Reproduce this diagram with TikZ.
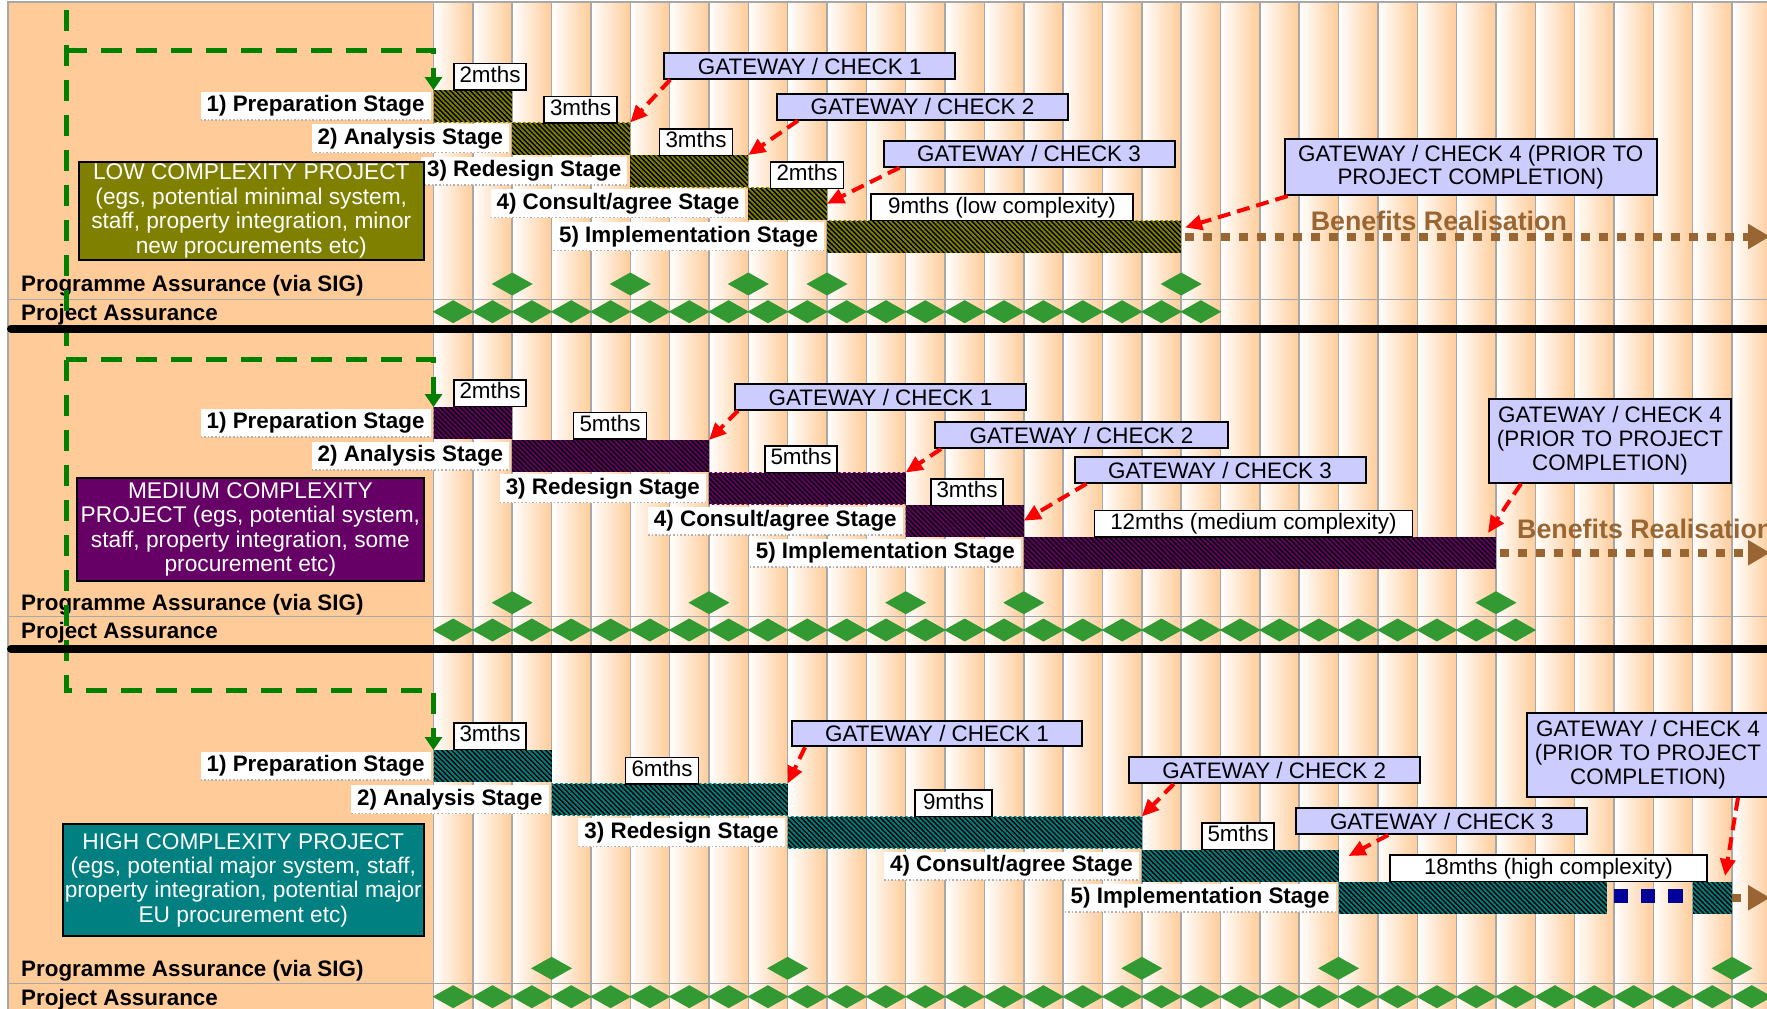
\documentclass[tikz,border=0pt]{standalone}
\usepackage{fontspec}
\setmainfont{Liberation Sans}
\usetikzlibrary{arrows.meta,patterns.meta}
\definecolor{peach}{HTML}{FFCC99}
\definecolor{gridgray}{HTML}{A8A8A8}
\definecolor{lowcol}{HTML}{808000}
\definecolor{medcol}{HTML}{660066}
\definecolor{highcol}{HTML}{008080}
\definecolor{gatefill}{HTML}{CCCCFF}
\definecolor{benefit}{HTML}{996633}
\definecolor{gemgreen}{HTML}{339933}
\definecolor{pathgreen}{HTML}{008000}
\definecolor{squareblue}{HTML}{000099}
\newcommand\setfs[2]{\fontsize{#1}{#2}\selectfont}
\pgfdeclarelayer{grid}
\pgfdeclarelayer{under}
\pgfsetlayers{grid,under,main}
\tikzset{
  gridline/.style={draw=gridgray, line width=1.5pt},
  barshape/.style={inner sep=0pt, outer sep=0pt, minimum height=#1, anchor=north west, fill=black},
  stagelabel/.style={fill=white, font=\bfseries\setfs{22.4}{24}, inner xsep=6pt, inner ysep=3.5pt,
    text height=16.5pt, text depth=5pt, outer sep=0pt,
    path picture={\draw[gray!60, dotted, line width=1.6pt] (path picture bounding box.south west) -- (path picture bounding box.south east);}},
  durbox/.style={draw=black, line width=1.5pt, fill=white, font=\setfs{22.4}{24}, inner sep=0pt,
    minimum height=26.5pt, text height=16pt, text depth=4.5pt},
  gate/.style={draw=black, line width=2pt, fill=gatefill, font=\setfs{22.4}{23.8}, inner sep=0pt,
    align=center},
  cbox/.style={draw=black, line width=2pt, text=white, font=\setfs{22.7}{24.4}, inner sep=0pt,
    align=center},
  rowtext/.style={font=\bfseries\setfs{22.4}{24}, inner sep=0pt, anchor=base west},
  gatearrow/.style={draw=red, line width=4pt, dash pattern=on 13pt off 7pt,
    -{Triangle[length=17pt,width=15pt]}},
  greenpath/.style={draw=pathgreen, line width=5pt, dash pattern=on 21pt off 14pt,
    -{Triangle[length=13pt,width=17pt]}},
  benefitarrow/.style={draw=benefit, line width=8pt, dash pattern=on 9pt off 9pt,
    -{Triangle[length=22pt,width=24pt]}},
  benefittext/.style={text=benefit, font=\bfseries\setfs{26.8}{28}, inner sep=0pt, anchor=base west},
  divider/.style={line width=8pt, line cap=round}
}
% name, first month, last month, top, height, stripe colour
\newcommand\stagebar[6]{%
  \node[barshape=#5, minimum width={39.35*(#3-#2)},
        postaction={pattern color=#6, pattern={Lines[angle=-45,distance=3.5pt,line width=1.8pt]}}]
        (#1) at ({433.5+39.35*#2},#4) {};}
% name, bar, text
\newcommand\stagelabel[3]{\node[stagelabel, anchor=east] (#1) at ([xshift=-3pt]#2.west) {#3};}
% milestone diamond at (x,y)
\newcommand\gem[2]{\fill[gemgreen] ({#1-20.5},#2) -- ({#1},{#2-11.5}) -- ({#1+20.5},#2) -- ({#1},{#2+11.5}) -- cycle;}
\begin{document}
\begin{tikzpicture}[x=1pt,y=-1pt]
\useasboundingbox (0,0) rectangle (1767,1009);

% ---------- background grid of months ----------
\begin{pgfonlayer}{grid}
\fill[white] (0,0) rectangle (1767,1009);
\fill[peach] (8,2) rectangle (433.5,1009);
\foreach \k in {0,...,33}{\shade[left color=white,right color=peach] ({433.5+39.35*\k},2) rectangle ({433.5+39.35*(\k+1)},1009);}
\foreach \k in {0,...,33}{\draw[gridline] ({433.5+39.35*\k},2) -- ({433.5+39.35*\k},1009);}
\draw[gridline] (8,1009) -- (8,2) -- (1767,2);
\foreach \y in {299.3,616.7,983.3}{\draw[gridline] (8,\y) -- (1767,\y);}
\end{pgfonlayer}

% ---------- stage bars ----------
\stagebar{b1a}{0}{2}{90}{32}{lowcol}
\stagebar{b2a}{2}{5}{122.5}{32}{lowcol}
\stagebar{b3a}{5}{8}{155}{32}{lowcol}
\stagebar{b4a}{8}{10}{187.7}{32}{lowcol}
\stagebar{b5a}{10}{19}{220.5}{32}{lowcol}

\stagebar{b1b}{0}{2}{407}{31.5}{medcol}
\stagebar{b2b}{2}{7}{440}{31.5}{medcol}
\stagebar{b3b}{7}{12}{472.5}{31.5}{medcol}
\stagebar{b4b}{12}{15}{505}{31.5}{medcol}
\stagebar{b5b}{15}{27}{537}{31.5}{medcol}

\stagebar{b1c}{0}{3}{750}{31.5}{highcol}
\stagebar{b2c}{3}{9}{783.5}{31.5}{highcol}
\stagebar{b3c}{9}{18}{816.5}{31.5}{highcol}
\stagebar{b4c}{18}{23}{850}{31.5}{highcol}
\stagebar{b5c}{23}{29.82}{882}{31.5}{highcol}
\stagebar{b6c}{32}{33}{882}{31.5}{highcol}

% ---------- stage labels ----------
\stagelabel{l1a}{b1a}{1) Preparation Stage}
\stagelabel{l2a}{b2a}{2) Analysis Stage}
\stagelabel{l3a}{b3a}{3) Redesign Stage}
\stagelabel{l4a}{b4a}{4) Consult/agree Stage}
\stagelabel{l5a}{b5a}{5) Implementation Stage}

\stagelabel{l1b}{b1b}{1) Preparation Stage}
\stagelabel{l2b}{b2b}{2) Analysis Stage}
\stagelabel{l3b}{b3b}{3) Redesign Stage}
\stagelabel{l4b}{b4b}{4) Consult/agree Stage}
\stagelabel{l5b}{b5b}{5) Implementation Stage}

\stagelabel{l1c}{b1c}{1) Preparation Stage}
\stagelabel{l2c}{b2c}{2) Analysis Stage}
\stagelabel{l3c}{b3c}{3) Redesign Stage}
\stagelabel{l4c}{b4c}{4) Consult/agree Stage}
\stagelabel{l5c}{b5c}{5) Implementation Stage}

% ---------- project type boxes ----------
\node[cbox, fill=lowcol, minimum width=345.5pt, minimum height=98.3pt] (low) at (251.3,210.9)
  {LOW COMPLEXITY PROJECT\\(egs, potential minimal system,\\staff, property integration, minor\\new procurements etc)};
\node[cbox, fill=medcol, minimum width=347pt, minimum height=102.4pt] (medium) at (250.4,529.5)
  {MEDIUM COMPLEXITY\\PROJECT (egs, potential system,\\staff, property integration, some\\procurement etc)};
\node[cbox, fill=highcol, minimum width=361.5pt, minimum height=111.7pt] (high) at (243.3,880.2)
  {HIGH COMPLEXITY PROJECT\\(egs, potential major system, staff,\\property integration, potential major\\EU procurement etc)};

% ---------- durations ----------
\node[durbox, minimum width=72pt] (d1a) at (490,76.5) {2mths};
\node[durbox, minimum width=73pt] (d2a) at (580.5,109.5) {3mths};
\node[durbox, minimum width=73pt] (d3a) at (696,142) {3mths};
\node[durbox, minimum width=73pt] (d4a) at (807,175) {2mths};
\node[durbox, minimum width=262pt] (d5a) at (1002,207.3) {9mths (low complexity)};

\node[durbox, minimum width=72pt] (d1b) at (490,393) {2mths};
\node[durbox, minimum width=73pt] (d2b) at (610,425.5) {5mths};
\node[durbox, minimum width=72pt] (d3b) at (801,459) {5mths};
\node[durbox, minimum width=72pt] (d4b) at (967,492) {3mths};
\node[durbox, minimum width=318pt] (d5b) at (1253.4,523.7) {12mths (medium complexity)};

\node[durbox, minimum width=72pt] (d1c) at (490,736) {3mths};
\node[durbox, minimum width=73pt] (d2c) at (662,770.5) {6mths};
\node[durbox, minimum width=77pt] (d3c) at (953.5,803.3) {9mths};
\node[durbox, minimum width=72pt] (d4c) at (1238,836) {5mths};
\node[durbox, minimum width=317pt] (d5c) at (1548.5,868.4) {18mths (high complexity)};

% ---------- benefits realisation ----------
\coordinate (be1) at (1770,236.5);
\coordinate (be2) at (1770,552.75);
\coordinate (be3) at (1770,897.75);
\draw[benefitarrow, dash phase=14pt] (b5a.east) -- (be1);
\draw[benefitarrow, dash phase=14pt] (b5b.east) -- (be2);
\draw[benefitarrow] (b6c.east) -- (be3);
\node[benefittext] (br1) at (1310.6,230) {Benefits Realisation};
\node[benefittext] (br2) at (1517,538.5) {Benefits Realisation};

% gap in the long implementation bar
\fill[squareblue] (1614,889.3) rectangle (1627.7,902.7);
\fill[squareblue] (1641,889.3) rectangle (1654.6,902.7);
\fill[squareblue] (1668,889.3) rectangle (1682.5,902.7);

% ---------- gateways ----------
\node[gate, minimum width=291pt, minimum height=25.5pt] (g1a) at (809.7,66) {GATEWAY / CHECK 1};
\node[gate, minimum width=291pt, minimum height=25.5pt] (g2a) at (922.5,106.8) {GATEWAY / CHECK 2};
\node[gate, minimum width=291pt, minimum height=25.5pt] (g3a) at (1029,153.9) {GATEWAY / CHECK 3};
\node[gate, minimum width=372pt, minimum height=55.7pt] (g4a) at (1470.7,167.2)
  {GATEWAY / CHECK 4 (PRIOR TO\\PROJECT COMPLETION)};

\node[gate, minimum width=291pt, minimum height=25.5pt] (g1b) at (880.5,397) {GATEWAY / CHECK 1};
\node[gate, minimum width=293pt, minimum height=25.5pt] (g2b) at (1081.5,435.2) {GATEWAY / CHECK 2};
\node[gate, minimum width=291pt, minimum height=25.5pt] (g3b) at (1220,470) {GATEWAY / CHECK 3};
\node[gate, minimum width=242pt, minimum height=83.7pt] (g4b) at (1610,440.9)
  {GATEWAY / CHECK 4\\(PRIOR TO PROJECT\\COMPLETION)};

\node[gate, minimum width=290pt, minimum height=25.5pt] (g1c) at (937,733.5) {GATEWAY / CHECK 1};
\node[gate, minimum width=291pt, minimum height=25.5pt] (g2c) at (1274.2,770.2) {GATEWAY / CHECK 2};
\node[gate, minimum width=291pt, minimum height=25.5pt] (g3c) at (1441.8,821.2) {GATEWAY / CHECK 3};
\node[gate, minimum width=242pt, minimum height=84pt] (g4c) at (1648,754.7)
  {GATEWAY / CHECK 4\\(PRIOR TO PROJECT\\COMPLETION)};

\draw[gatearrow] ([xshift=7pt]g1a.south west) -- (b2a.north east);
\draw[gatearrow] ([xshift=22pt]g2a.south west) -- (b3a.north east);
\draw[gatearrow] ([xshift=17pt]g3a.south west) -- (b4a.east);
\draw[gatearrow] ([xshift=4pt]g4a.south west) -- ([xshift=4pt,yshift=-7pt]b5a.north east);

\draw[gatearrow] ([xshift=4pt]g1b.south west) -- (b2b.north east);
\draw[gatearrow] ([xshift=7pt]g2b.south west) -- (b3b.north east);
\draw[gatearrow] ([xshift=13pt]g3b.south west) -- (b4b.east);
\draw[gatearrow] ([xshift=33pt]g4b.south west) -- ([xshift=-8pt,yshift=4pt]b5b.north east);

\draw[gatearrow] ([xshift=14pt]g1c.south west) -- (b2c.north east);
\draw[gatearrow] ([xshift=46pt]g2c.south west) -- (b3c.north east);
\draw[gatearrow] ([xshift=93pt]g3c.south west) -- ([xshift=10pt,yshift=-6pt]b4c.north east);
\draw[gatearrow] ([xshift=90pt]g4c.south) -- ([xshift=-7pt,yshift=6pt]b6c.north east);

% ---------- assurance milestones ----------
\foreach \k in {2,5,8,10,19}{\gem{433.5+39.35*\k}{284}}
\foreach \k in {0,...,19}{\gem{433.5+39.35*(\k+0.5)}{311.7}}
\foreach \k in {2,7,12,15,27}{\gem{433.5+39.35*\k}{602.7}}
\foreach \k in {0,...,27}{\gem{433.5+39.35*(\k+0.5)}{630}}
\foreach \k in {3,9,18,23,33}{\gem{433.5+39.35*\k}{968.3}}
\foreach \k in {0,...,33}{\gem{433.5+39.35*(\k+0.5)}{996.7}}

% ---------- row titles, start path and section dividers ----------
\begin{pgfonlayer}{under}
\node[rowtext] (pa1) at (21,291.7) {Programme Assurance (via SIG)};
\node[rowtext] (pj1) at (21,320) {Project Assurance};
\node[rowtext] (pa2) at (21,610.7) {Programme Assurance (via SIG)};
\node[rowtext] (pj2) at (21,638.3) {Project Assurance};
\node[rowtext] (pa3) at (21,976) {Programme Assurance (via SIG)};
\node[rowtext] (pj3) at (21,1005) {Project Assurance};

\coordinate (gtop) at (66,10);
\coordinate (gcorner) at (66,690);
\coordinate (gb1) at (66,50);
\coordinate (gb2) at (66,359);
\draw[greenpath] (gtop) -- (gcorner) -| (b1c.north west);
\draw[greenpath] (gb1) -| (b1a.north west);
\draw[greenpath] (gb2) -| (b1b.north west);

\draw[divider] (11,328.5) -- (1770,328.5);
\draw[divider] (11,649) -- (1770,649);
\end{pgfonlayer}
\end{tikzpicture}
\end{document}
